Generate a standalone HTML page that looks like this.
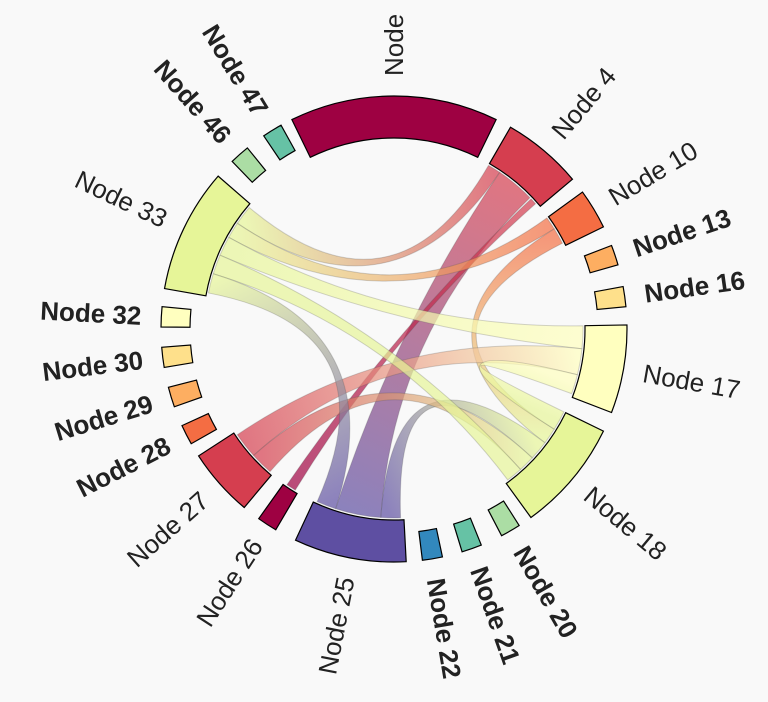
<!DOCTYPE html>
<html><head><meta charset="utf-8"><style>
html,body{margin:0;padding:0;background:#f9f9f9;width:768px;height:702px;overflow:hidden}
text{font-family:"Liberation Sans",sans-serif;font-size:26px;fill:#222}
</style></head><body>
<svg id="s" width="768" height="702" viewBox="0 0 768 702" xmlns="http://www.w3.org/2000/svg"></svg>
<script>
var cx=394,cy=329,ri=191,ro=233,rc=189;
var nodes=[
["Node",-26,26,"#9e0142",0],["Node 47",-34,-29,"#66c2a5",1],["Node 46",-44,-39,"#abdda4",1],
["Node 4",30,50,"#d53e4f",0],["Node 10",54,64,"#f46d43",0],["Node 13",69,74,"#fdae61",1],
["Node 16",79.5,84.5,"#fee08b",1],["Node 17",89,111,"#ffffbf",0],["Node 18",116,144,"#e6f598",0],
["Node 20",147.5,152.5,"#abdda4",1],["Node 21",158,163,"#66c2a5",1],["Node 22",168,173,"#3288bd",1],
["Node 25",177,205,"#5e4fa2",0],["Node 26",210.5,215.5,"#9e0142",0],["Node 27",220,237,"#d53e4f",0],
["Node 28",240.5,245.5,"#f46d43",1],["Node 29",250.5,255.5,"#fdae61",1],["Node 30",260.5,265.5,"#fee08b",1],
["Node 32",270.5,275.5,"#ffffbf",1],["Node 33",280,311,"#e6f598",0]];
var chords=[
[304,310,"#e6f598",30,34,"#d53e4f"],
[34,46,"#d53e4f",184,198,"#5e4fa2"],
[46.5,48.5,"#d53e4f",211.5,214.5,"#9e0142"],
[54,58,"#f46d43",299,304,"#e6f598"],
[58,63,"#f46d43",122,127,"#e6f598"],
[89,96,"#ffffbf",293,299,"#e6f598"],
[96,104,"#ffffbf",228,236,"#d53e4f"],
[104,110,"#ffffbf",116,122,"#e6f598"],
[127,133,"#e6f598",178,184,"#5e4fa2"],
[133,138,"#e6f598",221,228,"#d53e4f"],
[138,143,"#e6f598",287,293,"#e6f598"],
[198,204,"#5e4fa2",281,287,"#e6f598"]];
function P(a,r){var t=(a-90)*Math.PI/180;return [cx+r*Math.cos(t),cy+r*Math.sin(t)];}
function f(p){return p[0].toFixed(2)+","+p[1].toFixed(2);}
var s="<defs>",body="";
chords.forEach(function(c,i){
 var pa=P((c[0]+c[1])/2,rc),pb=P((c[3]+c[4])/2,rc);
 s+='<linearGradient id="g'+i+'" gradientUnits="userSpaceOnUse" x1="'+pa[0]+'" y1="'+pa[1]+'" x2="'+pb[0]+'" y2="'+pb[1]+'"><stop offset="0" stop-color="'+c[2]+'"/><stop offset="1" stop-color="'+c[5]+'"/></linearGradient>';
 var d="M"+f(P(c[0],rc))+"A"+rc+","+rc+" 0 0 1 "+f(P(c[1],rc))+"Q"+cx+","+cy+" "+f(P(c[3],rc))+"A"+rc+","+rc+" 0 0 1 "+f(P(c[4],rc))+"Q"+cx+","+cy+" "+f(P(c[0],rc))+"Z";
 body+='<path d="'+d+'" fill="url(#g'+i+')" fill-opacity="0.7" stroke="#555" stroke-opacity="0.25" stroke-width="1"/>';
});
s+="</defs>"+body;
nodes.forEach(function(n){
 var a0=n[1],a1=n[2],lg=(a1-a0)>180?1:0;
 var r1=n[4]?204:ri, r2=ro;
 var d="M"+f(P(a0,r2))+"A"+r2+","+r2+" 0 "+lg+" 1 "+f(P(a1,r2))+"L"+f(P(a1,r1))+"A"+r1+","+r1+" 0 "+lg+" 0 "+f(P(a0,r1))+"Z";
 s+='<path d="'+d+'" fill="'+n[3]+'" stroke="#000" stroke-width="1.2"/>';
 var am=(a0+a1)/2,p=P(am,ro+20),w=n[4]?' font-weight="bold"':'';
 var an=((am%360)+360)%360;
 if(an<=180||an>359){
  s+='<text x="'+p[0]+'" y="'+p[1]+'" dy="0.35em" text-anchor="start" transform="rotate('+(am-90)+' '+p[0]+' '+p[1]+')"'+w+'>'+n[0]+'</text>';
 } else {
  s+='<text x="'+p[0]+'" y="'+p[1]+'" dy="0.35em" text-anchor="end" transform="rotate('+(am+90)+' '+p[0]+' '+p[1]+')"'+w+'>'+n[0]+'</text>';
 }
});
document.getElementById("s").innerHTML=s;
</script>
</body></html>
